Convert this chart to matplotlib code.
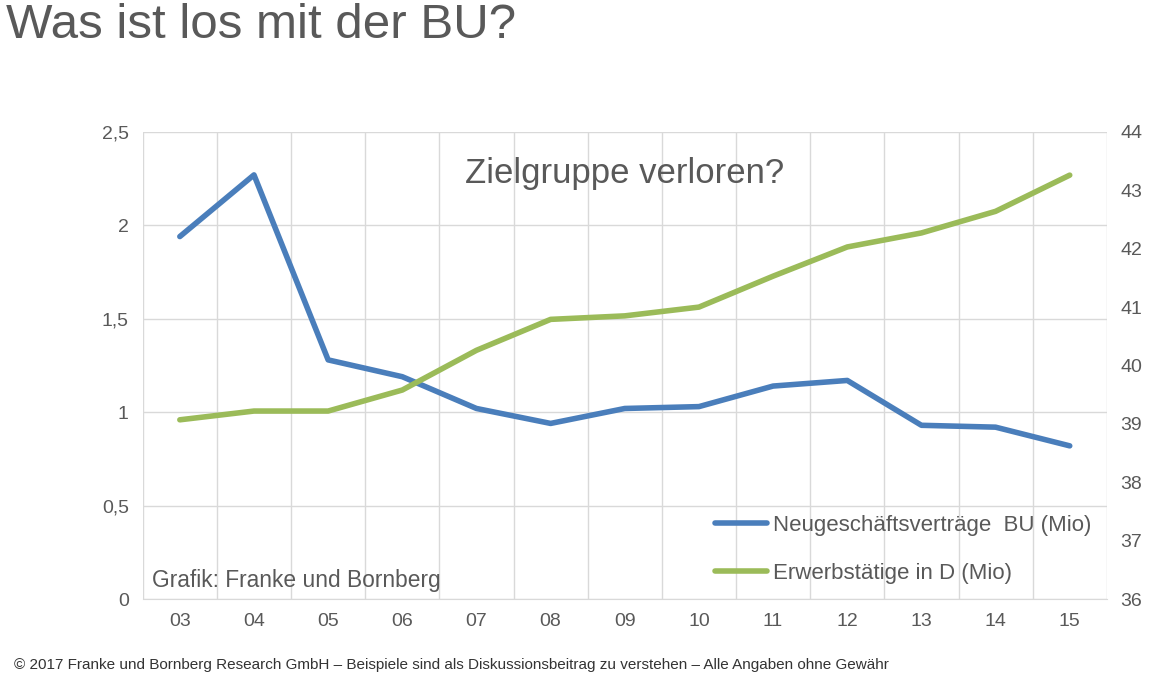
import matplotlib.pyplot as plt
import numpy as np

plt.rcParams["font.family"] = "Liberation Sans"

years = ["03", "04", "05", "06", "07", "08", "09", "10", "11", "12", "13", "14", "15"]
neugeschaeft = [1.94, 2.27, 1.28, 1.19, 1.02, 0.94, 1.02, 1.03, 1.14, 1.17, 0.93, 0.92, 0.82]
erwerbstaetige = [39.07, 39.22, 39.22, 39.58, 40.26, 40.79, 40.85, 41.0, 41.53, 42.03, 42.27, 42.64, 43.26]

gray = "#595959"
blue = "#4a7ebb"
green = "#9bbb59"

fig = plt.figure(figsize=(11.7, 6.8), dpi=100)
fig.text(0.005, 0.995, "Was ist los mit der BU?", fontsize=35.5, color=gray, va="top", ha="left")
fig.text(0.012, 0.012, "© 2017 Franke und Bornberg Research GmbH – Beispiele sind als Diskussionsbeitrag zu verstehen – Alle Angaben ohne Gewähr",
         fontsize=11, color="#333333", va="bottom", ha="left")

ax = fig.add_axes([0.122, 0.119, 0.824, 0.687])
x = np.arange(len(years))
l1, = ax.plot(x, neugeschaeft, color=blue, lw=4, solid_capstyle="round", label="Neugeschäftsverträge  BU (Mio)")
ax.set_ylim(0, 2.5)
ax.set_yticks([0, 0.5, 1, 1.5, 2, 2.5])
ax.set_yticklabels(["0", "0,5", "1", "1,5", "2", "2,5"])
ax.set_xlim(-0.5, len(years) - 0.5)
ax.set_xticks(x)
ax.set_xticklabels(years)
ax.set_xticks(np.arange(-0.5, len(years)), minor=True)
ax.grid(True, which="minor", axis="x", color="#d9d9d9", lw=1)
ax.grid(True, which="major", axis="y", color="#d9d9d9", lw=1)
ax.tick_params(which="both", length=0, colors=gray, labelsize=14, pad=10)
for s in ax.spines.values():
    s.set_visible(False)
ax.spines["bottom"].set_visible(True)
ax.spines["bottom"].set_color("#d9d9d9")

ax2 = ax.twinx()
l2, = ax2.plot(x, erwerbstaetige, color=green, lw=4, solid_capstyle="round", label="Erwerbstätige in D (Mio)")
ax2.set_ylim(36, 44)
ax2.set_yticks(range(36, 45))
ax2.tick_params(length=0, colors=gray, labelsize=14, pad=10)
for s in ax2.spines.values():
    s.set_visible(False)

ax.text(0.5, 0.91, "Zielgruppe verloren?", transform=ax.transAxes, ha="center", va="center", fontsize=25, color=gray)
ax.text(0.01, 0.015, "Grafik: Franke und Bornberg", transform=ax.transAxes, ha="left", va="bottom", fontsize=16.4, color=gray)
leg = ax.legend(handles=[l1, l2], loc="lower right", frameon=False, fontsize=16, handlelength=2.3,
                handletextpad=0.3, bbox_to_anchor=(1.005, -0.01), labelspacing=1.2)
for t in leg.get_texts():
    t.set_color(gray)

fig.savefig("out.png", dpi=100)
